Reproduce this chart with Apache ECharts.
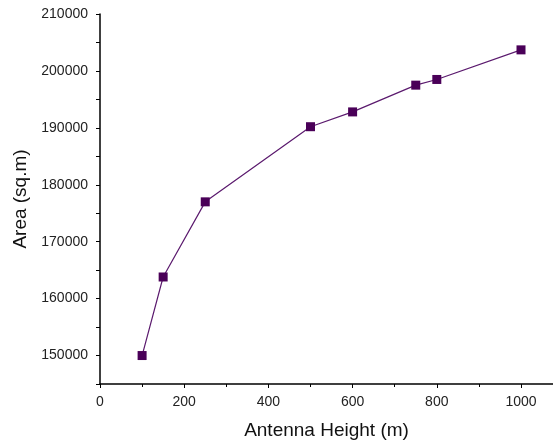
<!DOCTYPE html>
<html>
<head>
<meta charset="utf-8">
<script src="https://cdn.jsdelivr.net/npm/echarts@6/dist/echarts.min.js"></script>
<style>
html, body { margin: 0; padding: 0; background: #fff; }
#chart { width: 553px; height: 445px; }
</style>
</head>
<body>
<div id="chart"></div>
<script>
// antenna height (m) vs covered area (sq.m)
var heights = [100, 150, 250, 500, 600, 750, 800, 1000];
var areas = [150000, 163800, 177000, 190200, 192800, 197500, 198500, 203700];
var xLabel = 'Antenna Height (m)';
var yLabel = 'Area (sq.m)';

var points = [];
for (var i = 0; i < heights.length; i++) {
    points.push([heights[i], areas[i]]);
}

var chart = echarts.init(document.getElementById('chart'));
var font = 'Liberation Sans, Arial, sans-serif';
var axisLine = { show: true, onZero: false, lineStyle: { color: '#000', width: 1.5 } };

var option = {
    backgroundColor: '#fff',
    animation: false,
    grid: { left: 100, right: 0, top: 14, bottom: 61, containLabel: false, outerBoundsMode: 'none' },
    xAxis: {
        type: 'value',
        min: 0,
        max: 1076,
        interval: 200,
        name: xLabel,
        nameLocation: 'middle',
        nameGap: 37,
        nameTextStyle: { fontFamily: font, fontSize: 19, color: '#111' },
        axisLine: axisLine,
        axisTick: { show: true, inside: false, length: 4, lineStyle: { color: '#000' } },
        minorTick: { show: true, splitNumber: 2, length: 3, lineStyle: { color: '#000' } },
        axisLabel: {
            fontFamily: font, fontSize: 14, color: '#222', margin: 11,
            formatter: function (v) { return v % 200 === 0 ? String(v) : ''; }
        },
        splitLine: { show: false }
    },
    yAxis: {
        type: 'value',
        min: 145000,
        max: 210000,
        interval: 5000,
        name: yLabel,
        nameLocation: 'middle',
        nameGap: 68,
        nameTextStyle: { fontFamily: font, fontSize: 19, color: '#111' },
        axisLine: axisLine,
        axisTick: { show: true, inside: false, length: 4, lineStyle: { color: '#000' } },
        axisLabel: {
            fontFamily: font, fontSize: 14, color: '#222', margin: 12,
            formatter: function (v) { return v % 10000 === 0 ? String(v) : ''; }
        },
        splitLine: { show: false }
    },
    series: [{
        type: 'line',
        data: points,
        symbol: 'rect',
        symbolSize: 9,
        lineStyle: { color: '#5b1a6e', width: 1.2 },
        itemStyle: { color: '#4a0058' }
    }]
};
chart.setOption(option);
</script>
</body>
</html>
